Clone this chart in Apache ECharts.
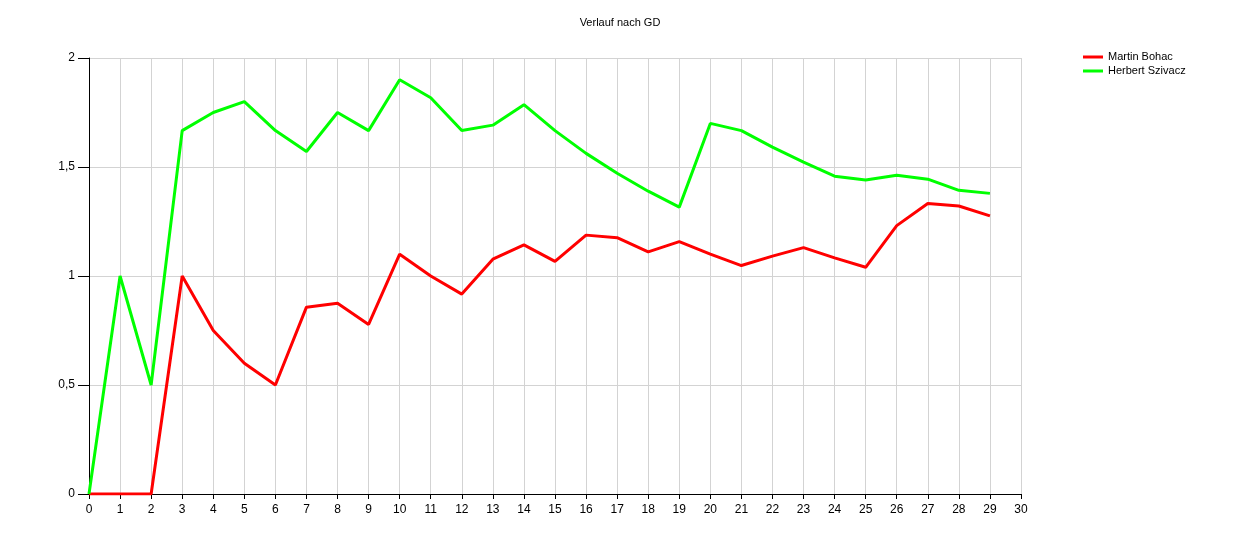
<!DOCTYPE html>
<html>
<head>
<meta charset="utf-8">
<script src="https://cdn.jsdelivr.net/npm/echarts@6/dist/echarts.min.js"></script>
<style>html,body{margin:0;padding:0;background:#fff;}#c{width:1240px;height:543px;}</style>
</head>
<body>
<div id="c"></div>
<script>
const xValues = [0,1,2,3,4,5,6,7,8,9,10,11,12,13,14,15,16,17,18,19,20,21,22,23,24,25,26,27,28,29];
const martinBohac = [0,0,0,1.0,0.75,0.6,0.5,0.857,0.875,0.778,1.1,1.0,0.917,1.077,1.143,1.067,1.1875,1.176,1.111,1.158,1.1,1.048,1.091,1.13,1.083,1.04,1.231,1.333,1.321,1.276];
const herbertSzivacz = [0,1.0,0.5,1.667,1.75,1.8,1.667,1.571,1.75,1.667,1.9,1.818,1.667,1.692,1.786,1.667,1.5625,1.471,1.389,1.316,1.7,1.667,1.591,1.522,1.458,1.44,1.462,1.444,1.393,1.379];
const seriesNames = ['Martin Bohac','Herbert Szivacz'];
const titleText = 'Verlauf nach GD';

const font = 'Liberation Sans, Arial, sans-serif';
const chart = echarts.init(document.getElementById('c'), null, {renderer:'canvas'});
const pairs = arr => arr.map((v,i)=>[xValues[i], v]);
chart.setOption({
  animation:false,
  backgroundColor:'#ffffff',
  title:{text:titleText,left:'center',top:17,padding:0,textStyle:{fontFamily:font,fontSize:11,fontWeight:'normal',color:'#000'}},
  legend:{orient:'vertical',left:1083,top:50,padding:0,itemWidth:20,itemHeight:3,itemGap:0,icon:'rect',
    textStyle:{fontFamily:font,fontSize:11,lineHeight:14,color:'#000'},
    data:seriesNames},
  grid:{left:89,right:219,top:58,bottom:49,containLabel:false},
  xAxis:{type:'value',min:0,max:30,interval:1,
    axisLine:{show:true,onZero:false,lineStyle:{color:'#000',width:1}},
    axisTick:{show:true,length:5,lineStyle:{color:'#000'}},
    axisLabel:{fontFamily:font,fontSize:12,color:'#000',margin:10},
    splitLine:{show:true,lineStyle:{color:'#d3d3d3',width:1}}},
  yAxis:{type:'value',min:0,max:2,interval:0.5,
    axisLine:{show:true,lineStyle:{color:'#000',width:1}},
    axisTick:{show:true,length:11,lineStyle:{color:'#000'}},
    axisLabel:{fontFamily:font,fontSize:12,color:'#000',margin:14,formatter:v=>String(v).replace('.',',')},
    splitLine:{show:true,lineStyle:{color:'#d3d3d3',width:1}}},
  series:[
    {name:seriesNames[0],type:'line',data:pairs(martinBohac),showSymbol:false,symbol:'none',
      lineStyle:{color:'#ff0000',width:3},itemStyle:{color:'#ff0000'}},
    {name:seriesNames[1],type:'line',data:pairs(herbertSzivacz),showSymbol:false,symbol:'none',
      lineStyle:{color:'#00ff00',width:3},itemStyle:{color:'#00ff00'}}
  ]
});
</script>
</body>
</html>
